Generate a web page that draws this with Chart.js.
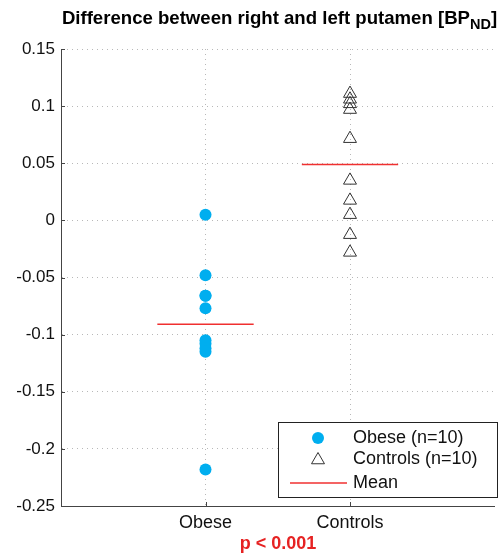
<!DOCTYPE html>
<html>
<head>
<meta charset="utf-8">
<script src="https://cdn.jsdelivr.net/npm/chart.js@4"></script>
<style>
  html, body { margin: 0; padding: 0; background: #fff; }
  #wrap { position: relative; width: 503px; height: 555px; font-family: "Liberation Sans", Arial, sans-serif; }
  #c { position: absolute; left: 0; top: 0; }
  #title { position: absolute; left: 0; width: 559px; top: 7px; text-align: center; font-weight: bold; font-size: 18.6px; line-height: 22px; color: #000; white-space: nowrap; }
  #title sub { font-size: 14.5px; vertical-align: -5px; line-height: 0; }
  #pval { position: absolute; left: 0; width: 556px; top: 533px; text-align: center; font-weight: bold; font-size: 18px; line-height: 20px; color: #e62222; }
</style>
</head>
<body>
<div id="wrap">
  <canvas id="c" width="503" height="555"></canvas>
  <div id="title">Difference between right and left putamen [BP<sub>ND</sub>]</div>
  <div id="pval">p &lt; 0.001</div>
</div>
<script>
// ---- data ----
const categories = ["Obese", "Controls"];
const obeseValues = [0.005, -0.048, -0.066, -0.066, -0.077, -0.105, -0.108, -0.112, -0.115, -0.218];
const controlValues = [0.111, 0.106, 0.102, 0.097, 0.0715, 0.035, 0.0175, 0.005, -0.0125, -0.028];
const meanValues = [-0.091, 0.049];
const yTickValues = [0.15, 0.1, 0.05, 0, -0.05, -0.1, -0.15, -0.2, -0.25];
const yTickLabels = ["0.15", "0.1", "0.05", "0", "-0.05", "-0.1", "-0.15", "-0.2", "-0.25"];
const legendLabels = ["Obese (n=10)", "Controls (n=10)", "Mean"];

const FONT = '"Liberation Sans", Arial, sans-serif';
const BLUE = '#00aeef';
const TRI = '#333333';
const RED = '#f03030';

const halfWidth = 1 / 3;
const meanSets = meanValues.map((m, i) => ({
  type: 'line',
  label: 'Mean ' + categories[i],
  data: [{ x: i + 1 - halfWidth, y: m }, { x: i + 1 + halfWidth, y: m }],
  borderColor: RED,
  borderWidth: 1.5,
  pointRadius: 0,
  showLine: true,
  fill: false
}));

const innerTicks = {
  id: 'innerTicks',
  afterDraw(chart) {
    const ctx = chart.ctx;
    const xs = chart.scales.x, ys = chart.scales.y;
    const a = chart.chartArea;
    ctx.save();
    ctx.strokeStyle = '#444';
    ctx.lineWidth = 1;
    ctx.beginPath();
    yTickValues.forEach(v => {
      const y = Math.round(ys.getPixelForValue(v)) + 0.5;
      ctx.moveTo(a.left, y); ctx.lineTo(a.left + 4, y);
    });
    [1, 2].forEach(v => {
      const x = Math.round(xs.getPixelForValue(v)) + 0.5;
      ctx.moveTo(x, a.bottom); ctx.lineTo(x, a.bottom - 4);
    });
    ctx.stroke();
    ctx.restore();
  }
};

const boxLegend = {
  id: 'boxLegend',
  afterDraw(chart) {
    const ctx = chart.ctx;
    const L = 278.5, T = 422.5, W = 219, H = 75;
    ctx.save();
    ctx.fillStyle = '#fff';
    ctx.fillRect(L, T, W, H);
    ctx.strokeStyle = '#222';
    ctx.lineWidth = 1;
    ctx.strokeRect(L, T, W, H);
    const rows = [438, 459, 483];
    // circle
    ctx.fillStyle = BLUE;
    ctx.beginPath(); ctx.arc(318, rows[0], 6, 0, Math.PI * 2); ctx.fill();
    // triangle
    const r = 7.5, cx = 318, cy = rows[1] + 1;
    ctx.strokeStyle = TRI;
    ctx.beginPath();
    for (let k = 0; k < 3; k++) {
      const ang = k * 2 * Math.PI / 3;
      const px = cx + Math.sin(ang) * r, py = cy - Math.cos(ang) * r;
      if (k === 0) ctx.moveTo(px, py); else ctx.lineTo(px, py);
    }
    ctx.closePath(); ctx.stroke();
    // mean line
    ctx.strokeStyle = RED; ctx.lineWidth = 1.5;
    ctx.beginPath(); ctx.moveTo(290, rows[2]); ctx.lineTo(347, rows[2]); ctx.stroke();
    // texts
    ctx.fillStyle = '#111';
    ctx.font = '18px ' + FONT;
    ctx.textBaseline = 'middle';
    ctx.textAlign = 'left';
    legendLabels.forEach((t, i) => ctx.fillText(t, 353, rows[i]));
    ctx.restore();
  }
};

new Chart(document.getElementById('c'), {
  type: 'scatter',
  data: {
    datasets: [
      {
        label: legendLabels[0],
        data: obeseValues.map(v => ({ x: 1, y: v })),
        pointStyle: 'circle',
        pointRadius: 6,
        backgroundColor: BLUE,
        borderWidth: 0
      },
      {
        label: legendLabels[1],
        data: controlValues.map(v => ({ x: 2, y: v })),
        pointStyle: 'triangle',
        pointRadius: 7.5,
        backgroundColor: 'rgba(0,0,0,0)',
        borderColor: TRI,
        borderWidth: 1
      },
      ...meanSets
    ]
  },
  options: {
    responsive: false,
    animation: false,
    events: [],
    layout: { padding: { top: 49, right: 6, left: 0, bottom: 0 } },
    plugins: { legend: { display: false }, title: { display: false }, tooltip: { enabled: false } },
    scales: {
      x: {
        type: 'linear',
        min: 0, max: 3,
        afterBuildTicks(s) { s.ticks = [{ value: 1 }, { value: 2 }]; },
        afterFit(s) { s.height = 49; },
        ticks: {
          callback: (v) => categories[v - 1] || '',
          font: { family: FONT, size: 18 },
          color: '#111',
          padding: 6,
          maxRotation: 0
        },
        grid: { color: '#b8b8b8', drawTicks: false, lineWidth: 1 },
        border: { display: true, color: '#444', width: 1, dash: [1, 4] }
      },
      y: {
        type: 'linear',
        min: -0.25, max: 0.15,
        afterBuildTicks(s) { s.ticks = yTickValues.map(v => ({ value: v })); },
        afterFit(s) { s.width = 61; },
        ticks: {
          callback: (v) => { const i = yTickValues.findIndex(t => Math.abs(t - v) < 1e-9); return i >= 0 ? yTickLabels[i] : ''; },
          font: { family: FONT, size: 17 },
          color: '#111',
          padding: 6
        },
        grid: { color: '#b8b8b8', drawTicks: false, lineWidth: 1 },
        border: { display: true, color: '#444', width: 1, dash: [1, 4] }
      }
    }
  },
  plugins: [innerTicks, boxLegend]
});
</script>
</body>
</html>
